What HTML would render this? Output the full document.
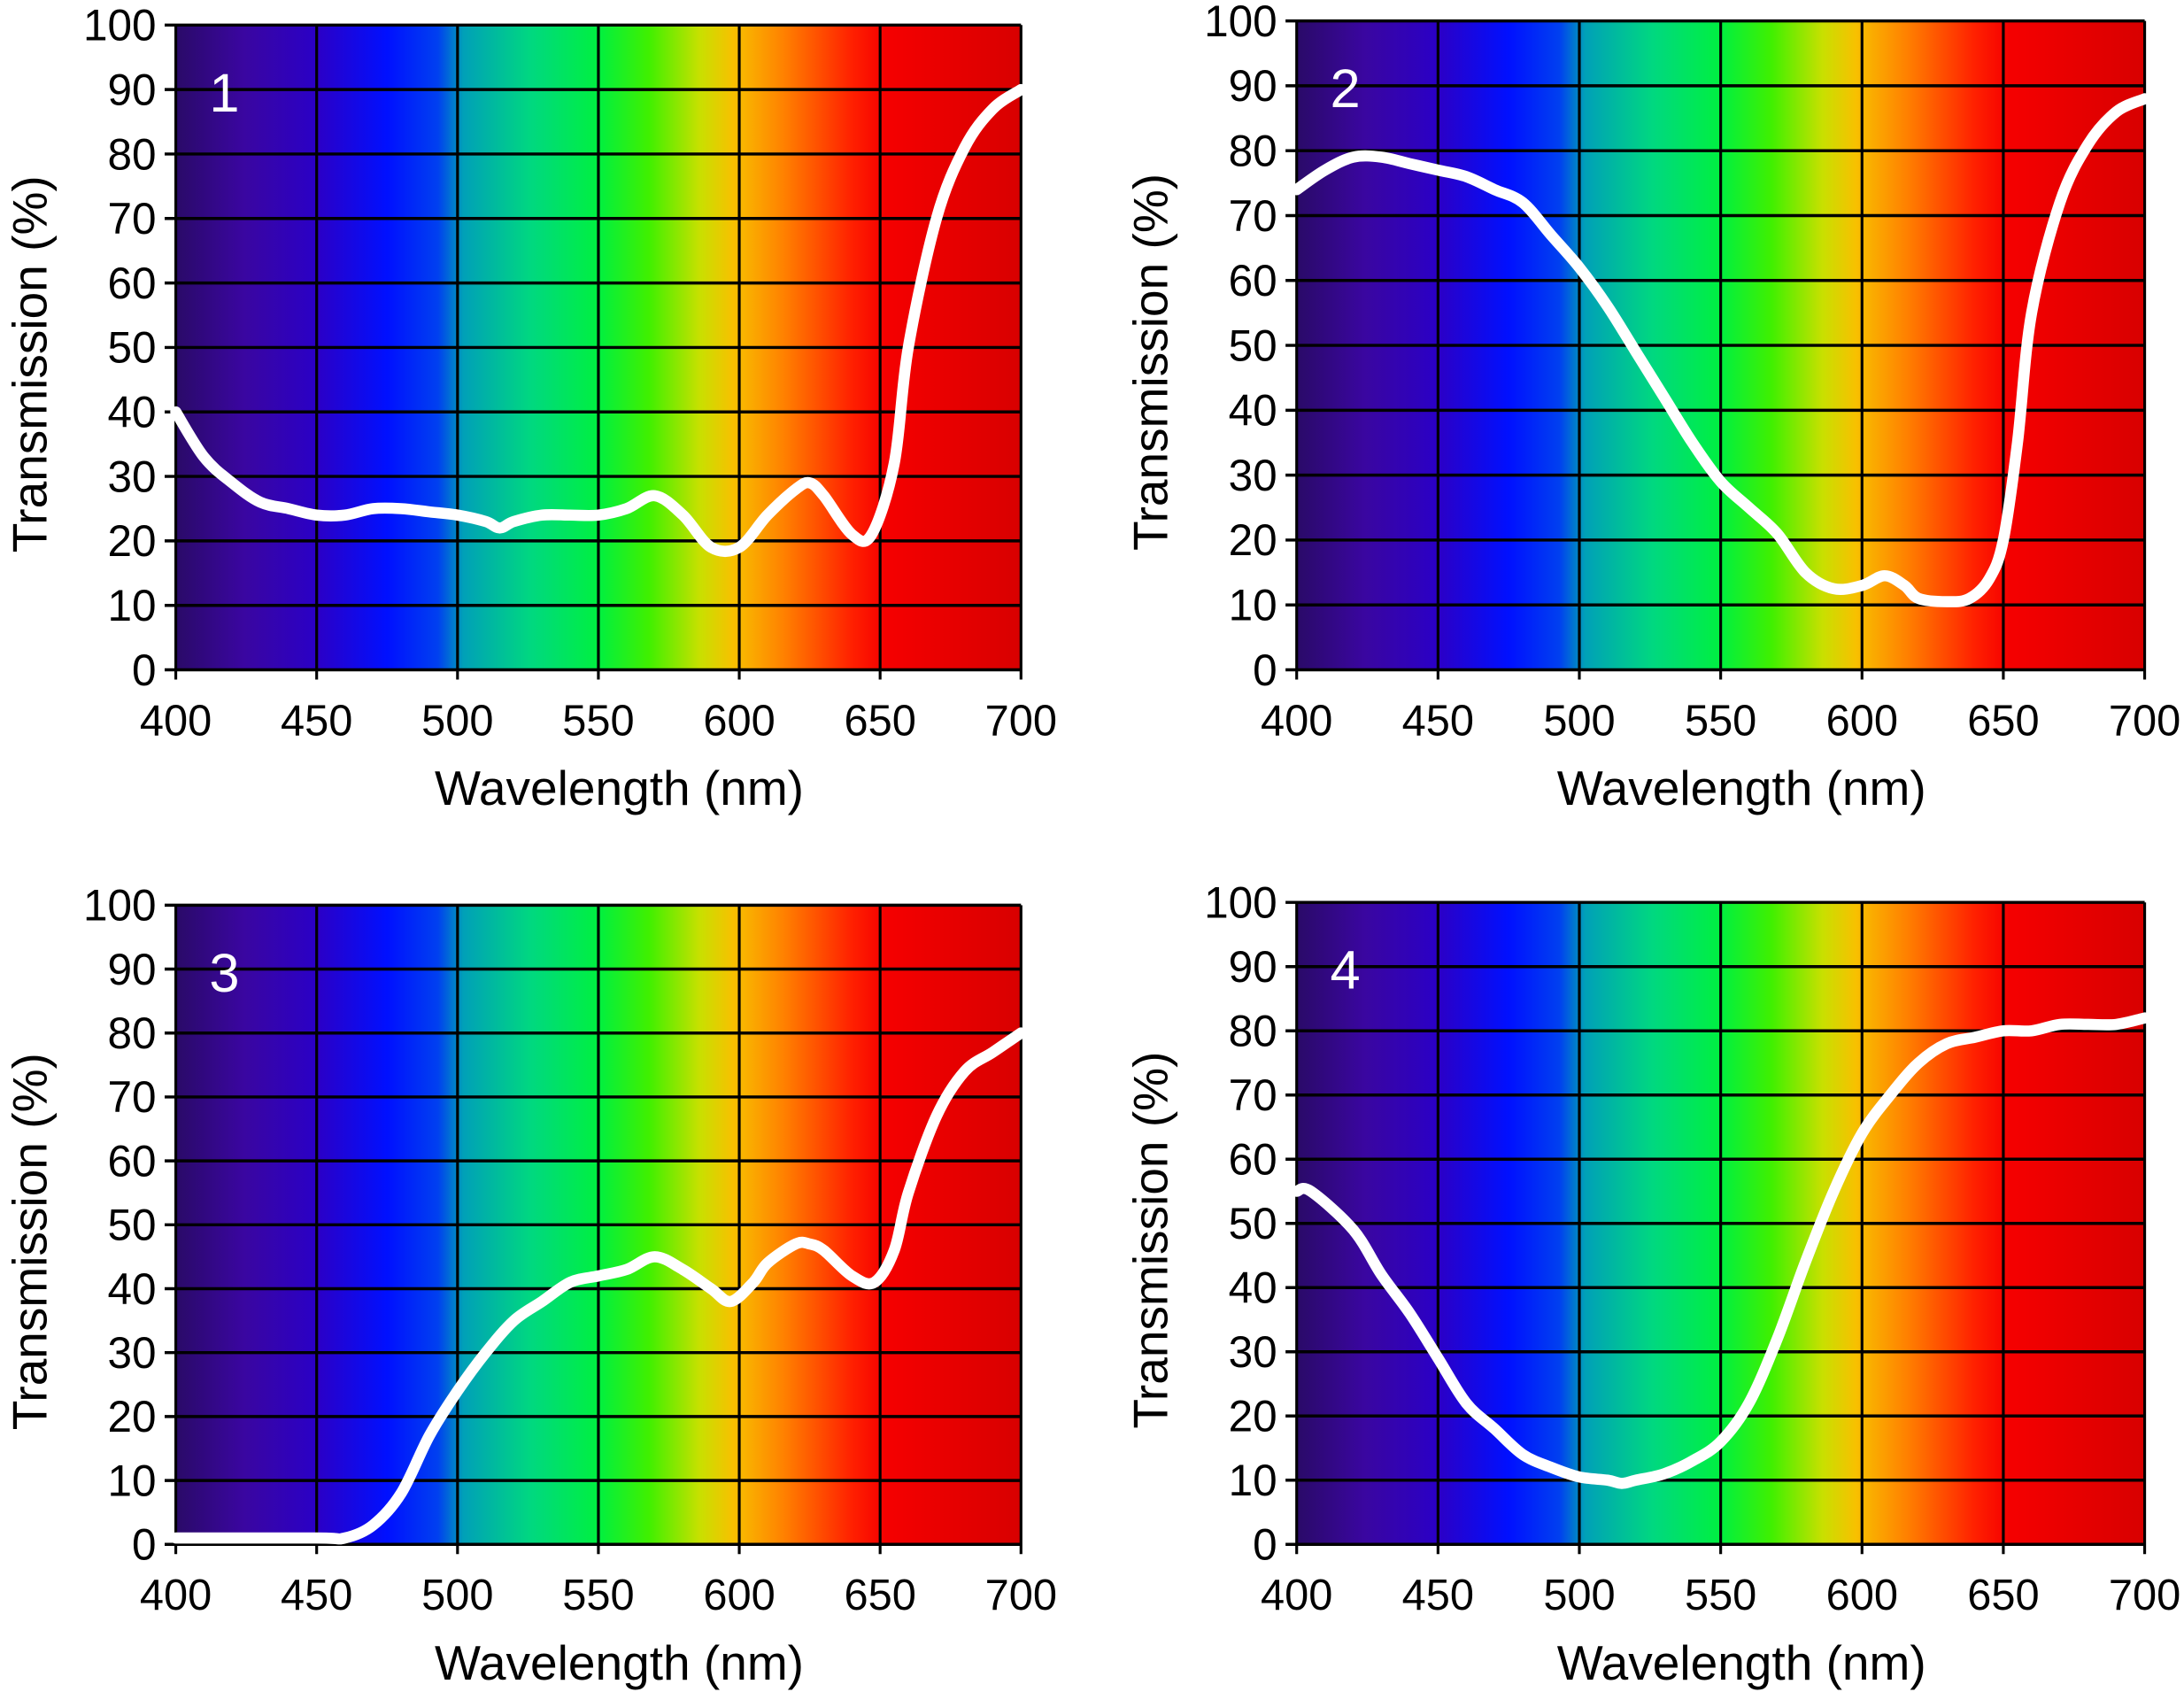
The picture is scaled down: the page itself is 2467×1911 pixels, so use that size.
<!DOCTYPE html>
<html><head><meta charset="utf-8">
<style>
html,body{margin:0;padding:0;background:#fff;}
svg{display:block;}
text{font-family:"Liberation Sans",Arial,sans-serif;}
</style></head>
<body>
<svg id="fig" width="2467" height="1911" viewBox="0 0 1568 1215" xmlns="http://www.w3.org/2000/svg">
<defs>
<linearGradient id="spec" x1="0" x2="1" y1="0" y2="0">
<stop offset="0" stop-color="#2a0a68"/>
<stop offset="0.08" stop-color="#3a06a0"/>
<stop offset="0.17" stop-color="#2a00c8"/>
<stop offset="0.25" stop-color="#0010ff"/>
<stop offset="0.31" stop-color="#0040f0"/>
<stop offset="0.34" stop-color="#00a0b8"/>
<stop offset="0.42" stop-color="#00d880"/>
<stop offset="0.5" stop-color="#00f040"/>
<stop offset="0.56" stop-color="#40f000"/>
<stop offset="0.62" stop-color="#c8e000"/>
<stop offset="0.66" stop-color="#f8c000"/>
<stop offset="0.72" stop-color="#ff8000"/>
<stop offset="0.8" stop-color="#ff2000"/>
<stop offset="0.84" stop-color="#f50000"/>
<stop offset="1" stop-color="#d80000"/>
</linearGradient>
</defs>
</svg>
<script>
const xTicks=[400,450,500,550,600,650,700];
const yTicks=[0,10,20,30,40,50,60,70,80,90,100];
const wl1=[400,410,420,430,440,450,460,470,480,490,500,510,515,520,530,540,550,560,570,580,590,600,610,620,625,630,640,647,655,660,670,680,690,700];
const t1=[40,33,29,26,25,24,24,25,25,24.5,24,23,22,23,24,24,24,25,27,24,19,19,24,28,29,27,21,21,32,50,70,81,87,90];
const wl2=[400,410,420,430,440,450,460,470,480,490,500,510,520,530,540,550,560,570,580,590,600,608,615,620,630,638,645,650,655,660,670,680,690,700];
const t2=[74,77,79,79,78,77,76,74,72,67,62,56,49,42,35,29,25,21,15,12.5,13,14.5,13,11,10.5,11,14,20,35,55,72,81,86,88];
const wl3=[400,450,460,470,480,490,500,510,520,530,540,550,560,570,580,590,597,605,610,620,625,630,640,648,655,660,670,680,690,700];
const t3=[1,1,1,3,8,17,24,30,35,38,41,42,43,45,43,40,38,41,44,47,47,46,42,41,46,55,67,74,77,80];
const wl4=[400,405,420,430,440,450,460,470,480,490,500,510,515,520,530,540,550,560,570,580,590,600,610,620,630,640,650,660,670,680,690,700];
const t4=[55,55,49,42,36,29,22,18,14,12,10.5,10,9.5,10,11,13,16,22,32,44,55,64,70,75,78,79,80,80,81,81,81,82];
const panels=[
 {id:1,x0:126,x1:733,yt:18,yb:481,wl:wl1,t:t1},
 {id:2,x0:931,x1:1540,yt:15,yb:481,wl:wl2,t:t2},
 {id:3,x0:126,x1:733,yt:650,yb:1109,wl:wl3,t:t3},
 {id:4,x0:931,x1:1540,yt:648,yb:1109,wl:wl4,t:t4}
];
const NS="http://www.w3.org/2000/svg";
const svg=document.getElementById('fig');
function mk(tag,attrs,parent){const e=document.createElementNS(NS,tag);for(const k in attrs)e.setAttribute(k,attrs[k]);(parent||svg).appendChild(e);return e;}
panels.forEach(p=>{
 const g=mk('g',{});
 
 
 const sx=v=>p.x0+(v-400)/300*(p.x1-p.x0);
 const sy=v=>p.yb-v/100*(p.yb-p.yt);
 const bg=mk('rect',{x:p.x0,y:p.yt,width:p.x1-p.x0,height:p.yb-p.yt,fill:'url(#spec)'},g);
 
 
 yTicks.forEach(v=>{
  const l=mk('line',{x1:p.x0-8,x2:p.x1,y1:sy(v),y2:sy(v),stroke:'#000','stroke-width':2.2},g);
  
  
  const t=mk('text',{x:p.x0-14,y:sy(v)+11,'text-anchor':'end','font-size':32,'textLength':(String(v).length*17.5),'lengthAdjust':'spacingAndGlyphs',fill:'#000'},g);
  t.textContent=v;
  
  
 });
 xTicks.forEach(v=>{
  const l=mk('line',{x1:sx(v),x2:sx(v),y1:p.yt,y2:p.yb+7,stroke:'#000','stroke-width':2},g);
  
  
  const t=mk('text',{x:sx(v),y:p.yb+47,'text-anchor':'middle','font-size':31,fill:'#000'},g);
  t.textContent=v;
  
  
 });
 const xt=mk('text',{x:(p.x0+p.x1)/2+15,y:p.yb+97,'text-anchor':'middle','font-size':35,fill:'#000'},g);
 xt.textContent='Wavelength (nm)';
 
 
 const ym=(p.yt+p.yb)/2+12;
 const yx=p.x0-93;
 const yt=mk('text',{x:yx,y:ym,'text-anchor':'middle','font-size':35,fill:'#000',transform:'rotate(-90 '+yx+' '+ym+')'},g);
 yt.textContent='Transmission (%)';
 
 
 const num=mk('text',{x:p.x0+24,y:p.yt+62,'font-size':39,fill:'#fff'},g);
 num.textContent=p.id;
 
 
 const pts=p.wl.map((w,i)=>[sx(w),sy(p.t[i])]);
 let d='M'+pts[0][0]+','+pts[0][1];
 for(let i=0;i<pts.length-1;i++){
  const a=pts[Math.max(0,i-1)],b=pts[i],c=pts[i+1],e=pts[Math.min(pts.length-1,i+2)];
  const c1=[b[0]+(c[0]-a[0])/6,b[1]+(c[1]-a[1])/6],c2=[c[0]-(e[0]-b[0])/6,c[1]-(e[1]-b[1])/6];
  d+=' C'+c1[0]+','+c1[1]+' '+c2[0]+','+c2[1]+' '+c[0]+','+c[1];
 }
 const line=mk('path',{d:d,fill:'none',stroke:'#fff','stroke-width':8,'stroke-linejoin':'round','stroke-linecap':'round'},g);
 
 
});
</script>
</body></html>
